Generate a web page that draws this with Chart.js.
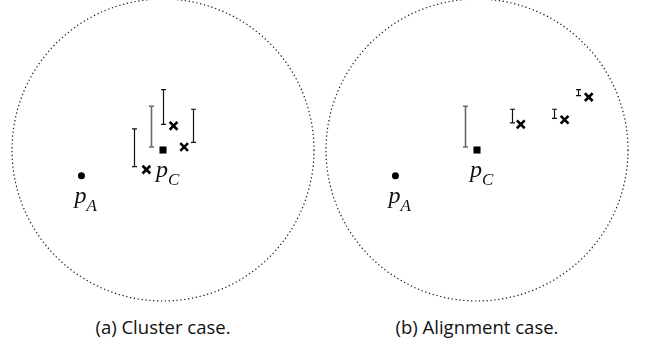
<!DOCTYPE html>
<html>
<head>
<meta charset="utf-8">
<script src="https://cdn.jsdelivr.net/npm/chart.js@4.4.1/dist/chart.umd.min.js"></script>
<style>
    body { margin: 0; background: #fff; width: 645px; height: 345px; position: relative; overflow: hidden; }
    .panel { position: absolute; top: -2px; width: 314px; height: 304px; }
    .cap { position: absolute; top: 314px; width: 314px; text-align: center; font: 18.5px "Open Sans", sans-serif; color: #111; }
</style>
</head>
<body>
<div class="panel" style="left:6px"><canvas id="clusterChart" width="314" height="304"></canvas></div>
<div class="panel" style="left:320px"><canvas id="alignChart" width="314" height="304"></canvas></div>
<div class="cap" style="left:6px">(a) Cluster case.</div>
<div class="cap" style="left:320px">(b) Alignment case.</div>
<script>
// coordinates in units of the circle radius, p_C at the origin
const pointA = [-0.54, -0.17];
const pointC = [0, 0];
const circleRadius = 1;

// (a) cluster case
const clusterCrossX = [-0.11, 0.07, 0.14];
const clusterCrossY = [-0.13, 0.16, 0.02];
const clusterBarX = [-0.19, -0.08, 0.0, 0.20];
const clusterBarLow = [-0.11, 0.02, 0.17, 0.05];
const clusterBarHigh = [0.14, 0.29, 0.40, 0.27];
const clusterBarGray = [false, true, false, false];

// (b) alignment case
const alignCrossX = [0.29, 0.58, 0.74];
const alignCrossY = [0.17, 0.20, 0.35];
const alignBarX = [-0.08, 0.23, 0.51, 0.67];
const alignBarLow = [0.02, 0.18, 0.21, 0.36];
const alignBarHigh = [0.29, 0.27, 0.27, 0.40];
const alignBarGray = [true, false, false, false];

// рисуем пунктирный круг, интервалы и подписи
const extrasPlugin = {
    id: 'extras',
    beforeDatasetsDraw(chart, args, opts) {
        const { ctx, scales: { x, y } } = chart;
        const cx = x.getPixelForValue(pointC[0]);
        const cy = y.getPixelForValue(pointC[1]);
        const rx = x.getPixelForValue(pointC[0] + circleRadius) - cx;
        const ry = cy - y.getPixelForValue(pointC[1] + circleRadius);
        ctx.save();
        ctx.strokeStyle = '#1a1a1a';
        ctx.lineWidth = 1.2;
        ctx.setLineDash([1.3, 2.6]);
        ctx.beginPath();
        ctx.ellipse(cx, cy, rx, ry, 0, 0, Math.PI * 2);
        ctx.stroke();
        ctx.setLineDash([]);

        // error bars
        opts.barX.forEach((bx, i) => {
            const px = Math.round(x.getPixelForValue(bx)) + 0.5;
            const top = y.getPixelForValue(opts.barHigh[i]);
            const bot = y.getPixelForValue(opts.barLow[i]);
            ctx.strokeStyle = opts.barGray[i] ? '#6a6a6a' : '#111';
            ctx.lineWidth = opts.barGray[i] ? 1.6 : 1.2;
            ctx.beginPath();
            ctx.moveTo(px, top); ctx.lineTo(px, bot);
            ctx.moveTo(px - 2.5, top); ctx.lineTo(px + 2.5, top);
            ctx.moveTo(px - 2.5, bot); ctx.lineTo(px + 2.5, bot);
            ctx.stroke();
        });
        ctx.restore();
    },
    afterDatasetsDraw(chart) {
        const { ctx, scales: { x, y } } = chart;
        const labels = [['A', pointA], ['C', pointC]];
        ctx.save();
        ctx.fillStyle = '#111';
        ctx.textBaseline = 'alphabetic';
        labels.forEach(([sub, p]) => {
            const px = x.getPixelForValue(p[0]);
            const py = y.getPixelForValue(p[1]);
            ctx.font = 'italic 24px "Liberation Serif"';
            ctx.fillText('p', px - 7, py + 27);
            const w = ctx.measureText('p').width;
            ctx.font = 'italic 17px "Liberation Serif"';
            ctx.fillText(sub, px - 7 + w, py + 35);
        });
        ctx.restore();
    }
};

function makePanel(canvasId, crossX, crossY, barX, barLow, barHigh, barGray) {
    const canvas = document.getElementById(canvasId);
    const ctx = canvas.getContext('2d');
    const halfW = 157 / 151;
    const halfH = 152 / 151;
    return new Chart(ctx, {
        type: 'scatter',
        data: {
            datasets: [
                {
                    data: [{ x: pointA[0], y: pointA[1] }],
                    pointStyle: 'circle',
                    pointRadius: 3.5,
                    backgroundColor: '#000',
                    borderColor: '#000',
                    borderWidth: 0
                },
                {
                    data: [{ x: pointC[0], y: pointC[1] }],
                    pointStyle: 'rect',
                    pointRadius: 5,
                    backgroundColor: '#000',
                    borderColor: '#000',
                    borderWidth: 0
                },
                {
                    data: crossX.map((v, i) => ({ x: v, y: crossY[i] })),
                    pointStyle: 'crossRot',
                    pointRadius: 5.5,
                    borderColor: '#000',
                    borderWidth: 2.6
                }
            ]
        },
        options: {
            responsive: false,
            animation: false,
            events: [],
            layout: { padding: 0, autoPadding: false },
            clip: false,
            scales: {
                x: { type: 'linear', display: false, min: -halfW, max: halfW },
                y: { type: 'linear', display: false, min: -halfH, max: halfH }
            },
            plugins: {
                legend: { display: false },
                tooltip: { enabled: false },
                extras: { barX: barX, barLow: barLow, barHigh: barHigh, barGray: barGray }
            }
        },
        plugins: [extrasPlugin]
    });
}

makePanel('clusterChart', clusterCrossX, clusterCrossY, clusterBarX, clusterBarLow, clusterBarHigh, clusterBarGray);
makePanel('alignChart', alignCrossX, alignCrossY, alignBarX, alignBarLow, alignBarHigh, alignBarGray);
</script>
</body>
</html>
